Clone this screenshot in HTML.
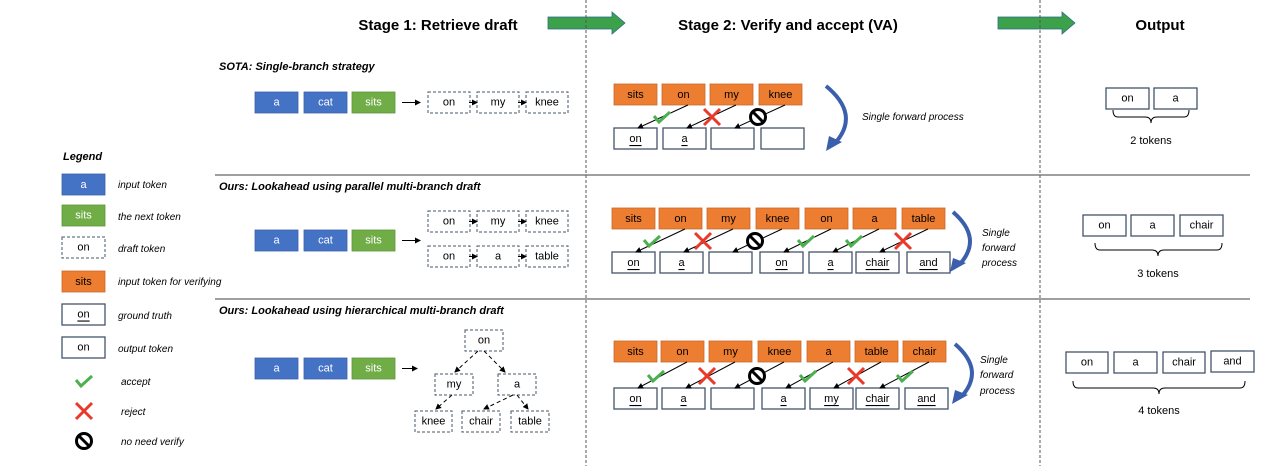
<!DOCTYPE html>
<html><head><meta charset="utf-8"><style>
html,body{margin:0;padding:0;background:#fff;}
svg{display:block;font-family:"Liberation Sans",sans-serif;}
.t{font-size:11px;text-anchor:middle;dominant-baseline:central;}
.w{fill:#fff;}
.it{font-style:italic;font-size:10px;}
.bi{font-style:italic;font-weight:bold;font-size:11px;}
.blue{fill:#4472c4;stroke:#3a62a8;stroke-width:0.8}
.green{fill:#70ad47;stroke:#5e9539;stroke-width:0.8}
.orange{fill:#ed7d31;stroke:#c9692a;stroke-width:0.8}
.dash{fill:#fff;stroke:#44546a;stroke-width:1;stroke-dasharray:3,2}
.out{fill:#fff;stroke:#44546a;stroke-width:1.3}
.ln{stroke:#000;stroke-width:1;fill:none}
.ck{stroke:#4caf50;stroke-width:3;fill:none}
.x{stroke:#e8392a;stroke-width:3}
</style></head><body>
<svg width="1286" height="466" viewBox="0 0 1286 466" xmlns="http://www.w3.org/2000/svg">
<defs>
<marker id="ah" markerWidth="6" markerHeight="6" refX="5" refY="3" orient="auto" markerUnits="userSpaceOnUse"><path d="M0,0 L6,3 L0,6 z" fill="#000"/></marker>
<g id="chk"><path class="ck" d="M-8,-1 L-3,5 L8,-5"/></g>
<g id="xx"><line class="x" x1="-8" y1="-8" x2="8" y2="8"/><line class="x" x1="8" y1="-8" x2="-8" y2="8"/></g>
<g id="no"><circle r="7.5" fill="#fff" stroke="#000" stroke-width="3"/><line x1="-5" y1="-5" x2="5" y2="5" stroke="#000" stroke-width="3"/></g>
</defs>

<!-- headers -->
<text x="438" y="30" font-size="15" font-weight="bold" text-anchor="middle">Stage 1: Retrieve draft</text>
<text x="788" y="30" font-size="15" font-weight="bold" text-anchor="middle">Stage 2: Verify and accept (VA)</text>
<text x="1160" y="30" font-size="15" font-weight="bold" text-anchor="middle">Output</text>
<polygon points="548,17 612,17 612,12 625,23 612,34 612,29 548,29" fill="#3ba14a" stroke="#2e6b8a" stroke-width="0.8"/>
<polygon points="998,17 1062,17 1062,12 1075,23 1062,34 1062,29 998,29" fill="#3ba14a" stroke="#2e6b8a" stroke-width="0.8"/>
<line x1="586" y1="0" x2="586" y2="466" stroke="#555" stroke-dasharray="3,2"/>
<line x1="1040" y1="0" x2="1040" y2="466" stroke="#555" stroke-dasharray="3,2"/>
<line x1="215" y1="175" x2="1250" y2="175" stroke="#666" stroke-width="1.3"/>
<line x1="215" y1="299" x2="1250" y2="299" stroke="#666" stroke-width="1.3"/>

<!-- legend -->
<text x="63" y="160" class="bi" font-size="10">Legend</text>
<rect x="62" y="174" width="43" height="21" class="blue"/><text x="83.5" y="185" class="t w">a</text>
<rect x="62" y="205" width="43" height="21" class="green"/><text x="83.5" y="215.5" class="t w">sits</text>
<rect x="62" y="237" width="43" height="21" class="dash"/><text x="83.5" y="247.5" class="t">on</text>
<rect x="62" y="271" width="43" height="21" class="orange"/><text x="83.5" y="282" class="t">sits</text>
<rect x="62" y="304" width="43" height="21" class="out"/><text x="83.5" y="314.5" class="t" text-decoration="underline">on</text>
<rect x="62" y="337" width="43" height="21" class="out"/><text x="83.5" y="347.5" class="t">on</text>
<use href="#chk" x="84" y="381"/><use href="#xx" x="84" y="411"/><use href="#no" x="84" y="441"/>
<text x="118" y="188" class="it">input token</text>
<text x="118" y="220" class="it">the next token</text>
<text x="118" y="252" class="it">draft token</text>
<text x="118" y="285" class="it">input token for verifying</text>
<text x="118" y="319" class="it">ground truth</text>
<text x="118" y="352" class="it">output token</text>
<text x="121" y="385" class="it">accept</text>
<text x="121" y="415" class="it">reject</text>
<text x="121" y="445" class="it">no need verify</text>

<!-- row 1 stage 1 -->
<text x="219" y="70" class="bi">SOTA: Single-branch strategy</text>
<rect x="255" y="92" width="43" height="21" class="blue"/><text x="276.5" y="102.5" class="t w">a</text>
<rect x="304" y="92" width="43" height="21" class="blue"/><text x="325.5" y="102.5" class="t w">cat</text>
<rect x="352" y="92" width="43" height="21" class="green"/><text x="373.5" y="102.5" class="t w">sits</text>
<line x1="402" y1="102.5" x2="420" y2="102.5" class="ln" marker-end="url(#ah)"/>
<rect x="428" y="92" width="42" height="21" class="dash"/><text x="449" y="102.5" class="t">on</text>
<rect x="477" y="92" width="42" height="21" class="dash"/><text x="498" y="102.5" class="t">my</text>
<rect x="526" y="92" width="42" height="21" class="dash"/><text x="547" y="102.5" class="t">knee</text>
<line x1="469" y1="102.5" x2="477" y2="102.5" class="ln" marker-end="url(#ah)"/>
<line x1="518" y1="102.5" x2="526" y2="102.5" class="ln" marker-end="url(#ah)"/>

<!-- row 1 stage 2 -->
<rect x="614" y="84" width="43" height="21" class="orange"/><text x="635.5" y="95" class="t">sits</text>
<rect x="662" y="84" width="43" height="21" class="orange"/><text x="683.5" y="95" class="t">on</text>
<rect x="710" y="84" width="43" height="21" class="orange"/><text x="731.5" y="95" class="t">my</text>
<rect x="759" y="84" width="43" height="21" class="orange"/><text x="780.5" y="95" class="t">knee</text>
<rect x="614" y="128" width="43" height="21" class="out"/><text x="635.5" y="139" class="t" text-decoration="underline">on</text>
<rect x="663" y="128" width="43" height="21" class="out"/><text x="684.5" y="139" class="t" text-decoration="underline">a</text>
<rect x="711" y="128" width="43" height="21" class="out"/>
<rect x="761" y="128" width="43" height="21" class="out"/>
<line x1="688" y1="105" x2="638" y2="128" class="ln" marker-end="url(#ah)"/>
<line x1="736" y1="105" x2="687" y2="128" class="ln" marker-end="url(#ah)"/>
<line x1="785" y1="105" x2="735" y2="128" class="ln" marker-end="url(#ah)"/>
<use href="#chk" x="662" y="117"/><use href="#xx" x="712" y="117"/><use href="#no" x="758" y="117"/>
<path d="M826,86 Q860,114 836,142" stroke="#3b5fad" stroke-width="4" fill="none"/>
<polygon points="829,136 842,142 826,151" fill="#3b5fad"/>
<text x="862" y="120" class="it">Single forward process</text>

<!-- row 1 output -->
<rect x="1106" y="88" width="43" height="21" class="out"/><text x="1127.5" y="98.5" class="t">on</text>
<rect x="1154" y="88" width="43" height="21" class="out"/><text x="1175.5" y="98.5" class="t">a</text>
<path d="M1113,110 Q1113,117 1118,117 L1145,117 Q1151,117 1151,123 Q1151,117 1157,117 L1184,117 Q1189,117 1189,110" class="ln"/>
<text x="1151" y="144" font-size="11" text-anchor="middle">2 tokens</text>

<!-- row 2 stage 1 -->
<text x="219" y="190" class="bi">Ours: Lookahead using parallel multi-branch draft</text>
<rect x="255" y="230" width="43" height="21" class="blue"/><text x="276.5" y="240.5" class="t w">a</text>
<rect x="304" y="230" width="43" height="21" class="blue"/><text x="325.5" y="240.5" class="t w">cat</text>
<rect x="352" y="230" width="43" height="21" class="green"/><text x="373.5" y="240.5" class="t w">sits</text>
<line x1="402" y1="240.5" x2="420" y2="240.5" class="ln" marker-end="url(#ah)"/>
<rect x="428" y="211" width="42" height="21" class="dash"/><text x="449" y="221.5" class="t">on</text>
<rect x="477" y="211" width="42" height="21" class="dash"/><text x="498" y="221.5" class="t">my</text>
<rect x="526" y="211" width="42" height="21" class="dash"/><text x="547" y="221.5" class="t">knee</text>
<line x1="469" y1="221.5" x2="477" y2="221.5" class="ln" marker-end="url(#ah)"/>
<line x1="518" y1="221.5" x2="526" y2="221.5" class="ln" marker-end="url(#ah)"/>
<rect x="428" y="246" width="42" height="21" class="dash"/><text x="449" y="256.5" class="t">on</text>
<rect x="477" y="246" width="42" height="21" class="dash"/><text x="498" y="256.5" class="t">a</text>
<rect x="526" y="246" width="42" height="21" class="dash"/><text x="547" y="256.5" class="t">table</text>
<line x1="469" y1="256.5" x2="477" y2="256.5" class="ln" marker-end="url(#ah)"/>
<line x1="518" y1="256.5" x2="526" y2="256.5" class="ln" marker-end="url(#ah)"/>

<!-- row 2 stage 2 -->
<rect x="612" y="208" width="43" height="21" class="orange"/><text x="633.5" y="219" class="t">sits</text>
<rect x="659" y="208" width="43" height="21" class="orange"/><text x="680.5" y="219" class="t">on</text>
<rect x="707" y="208" width="43" height="21" class="orange"/><text x="728.5" y="219" class="t">my</text>
<rect x="756" y="208" width="43" height="21" class="orange"/><text x="777.5" y="219" class="t">knee</text>
<rect x="805" y="208" width="43" height="21" class="orange"/><text x="826.5" y="219" class="t">on</text>
<rect x="853" y="208" width="43" height="21" class="orange"/><text x="874.5" y="219" class="t">a</text>
<rect x="902" y="208" width="43" height="21" class="orange"/><text x="923.5" y="219" class="t">table</text>
<rect x="612" y="252" width="43" height="21" class="out"/><text x="633.5" y="263" class="t" text-decoration="underline">on</text>
<rect x="660" y="252" width="43" height="21" class="out"/><text x="681.5" y="263" class="t" text-decoration="underline">a</text>
<rect x="709" y="252" width="43" height="21" class="out"/>
<rect x="760" y="252" width="43" height="21" class="out"/><text x="781.5" y="263" class="t" text-decoration="underline">on</text>
<rect x="809" y="252" width="43" height="21" class="out"/><text x="830.5" y="263" class="t" text-decoration="underline">a</text>
<rect x="856" y="252" width="43" height="21" class="out"/><text x="877.5" y="263" class="t" text-decoration="underline">chair</text>
<rect x="907" y="252" width="43" height="21" class="out"/><text x="928.5" y="263" class="t" text-decoration="underline">and</text>
<line x1="685" y1="229" x2="636" y2="252" class="ln" marker-end="url(#ah)"/>
<line x1="733" y1="229" x2="684" y2="252" class="ln" marker-end="url(#ah)"/>
<line x1="782" y1="229" x2="733" y2="252" class="ln" marker-end="url(#ah)"/>
<line x1="831" y1="229" x2="784" y2="252" class="ln" marker-end="url(#ah)"/>
<line x1="879" y1="229" x2="833" y2="252" class="ln" marker-end="url(#ah)"/>
<line x1="928" y1="229" x2="880" y2="252" class="ln" marker-end="url(#ah)"/>
<use href="#chk" x="652" y="241"/><use href="#xx" x="703" y="241"/><use href="#no" x="755" y="241"/>
<use href="#chk" x="806" y="241"/><use href="#chk" x="854" y="241"/><use href="#xx" x="903" y="241"/>
<path d="M953,212 Q983,238 960,264" stroke="#3b5fad" stroke-width="4" fill="none"/>
<polygon points="953,258 966,263 950,272" fill="#3b5fad"/>
<text x="982" y="236" class="it">Single</text>
<text x="982" y="251" class="it">forward</text>
<text x="982" y="266" class="it">process</text>

<!-- row 2 output -->
<rect x="1083" y="215" width="43" height="21" class="out"/><text x="1104.5" y="225.5" class="t">on</text>
<rect x="1131" y="215" width="43" height="21" class="out"/><text x="1152.5" y="225.5" class="t">a</text>
<rect x="1180" y="215" width="43" height="21" class="out"/><text x="1201.5" y="225.5" class="t">chair</text>
<path d="M1095,243 Q1095,250 1100,250 L1152,250 Q1158,250 1158,256 Q1158,250 1164,250 L1217,250 Q1222,250 1222,243" class="ln"/>
<text x="1158" y="277" font-size="11" text-anchor="middle">3 tokens</text>

<!-- row 3 stage 1 -->
<text x="219" y="314" class="bi">Ours: Lookahead using hierarchical multi-branch draft</text>
<rect x="255" y="358" width="43" height="21" class="blue"/><text x="276.5" y="368.5" class="t w">a</text>
<rect x="304" y="358" width="43" height="21" class="blue"/><text x="325.5" y="368.5" class="t w">cat</text>
<rect x="352" y="358" width="43" height="21" class="green"/><text x="373.5" y="368.5" class="t w">sits</text>
<line x1="402" y1="368.5" x2="417" y2="368.5" class="ln" marker-end="url(#ah)"/>
<rect x="465" y="330" width="38" height="21" class="dash"/><text x="484" y="340.5" class="t">on</text>
<rect x="435" y="374" width="38" height="21" class="dash"/><text x="454" y="384.5" class="t">my</text>
<rect x="498" y="374" width="38" height="21" class="dash"/><text x="517" y="384.5" class="t">a</text>
<rect x="415" y="411" width="37" height="21" class="dash"/><text x="433.5" y="421.5" class="t">knee</text>
<rect x="462" y="411" width="38" height="21" class="dash"/><text x="481" y="421.5" class="t">chair</text>
<rect x="511" y="411" width="38" height="21" class="dash"/><text x="530" y="421.5" class="t">table</text>
<g stroke-dasharray="4,3">
<line x1="478" y1="351" x2="455" y2="372" class="ln" marker-end="url(#ah)"/>
<line x1="484" y1="351" x2="505" y2="372" class="ln" marker-end="url(#ah)"/>
<line x1="452" y1="395" x2="436" y2="409" class="ln" marker-end="url(#ah)"/>
<line x1="513" y1="395" x2="484" y2="409" class="ln" marker-end="url(#ah)"/>
<line x1="517" y1="395" x2="528" y2="409" class="ln" marker-end="url(#ah)"/>
</g>

<!-- row 3 stage 2 -->
<rect x="614" y="341" width="43" height="21" class="orange"/><text x="635.5" y="352" class="t">sits</text>
<rect x="661" y="341" width="43" height="21" class="orange"/><text x="682.5" y="352" class="t">on</text>
<rect x="709" y="341" width="43" height="21" class="orange"/><text x="730.5" y="352" class="t">my</text>
<rect x="758" y="341" width="43" height="21" class="orange"/><text x="779.5" y="352" class="t">knee</text>
<rect x="807" y="341" width="43" height="21" class="orange"/><text x="828.5" y="352" class="t">a</text>
<rect x="855" y="341" width="43" height="21" class="orange"/><text x="876.5" y="352" class="t">table</text>
<rect x="903" y="341" width="43" height="21" class="orange"/><text x="924.5" y="352" class="t">chair</text>
<rect x="614" y="388" width="43" height="21" class="out"/><text x="635.5" y="399" class="t" text-decoration="underline">on</text>
<rect x="662" y="388" width="43" height="21" class="out"/><text x="683.5" y="399" class="t" text-decoration="underline">a</text>
<rect x="711" y="388" width="43" height="21" class="out"/>
<rect x="762" y="388" width="43" height="21" class="out"/><text x="783.5" y="399" class="t" text-decoration="underline">a</text>
<rect x="810" y="388" width="43" height="21" class="out"/><text x="831.5" y="399" class="t" text-decoration="underline">my</text>
<rect x="856" y="388" width="43" height="21" class="out"/><text x="877.5" y="399" class="t" text-decoration="underline">chair</text>
<rect x="905" y="388" width="43" height="21" class="out"/><text x="926.5" y="399" class="t" text-decoration="underline">and</text>
<line x1="687" y1="362" x2="638" y2="388" class="ln" marker-end="url(#ah)"/>
<line x1="735" y1="362" x2="686" y2="388" class="ln" marker-end="url(#ah)"/>
<line x1="784" y1="362" x2="735" y2="388" class="ln" marker-end="url(#ah)"/>
<line x1="833" y1="362" x2="786" y2="388" class="ln" marker-end="url(#ah)"/>
<line x1="881" y1="362" x2="834" y2="388" class="ln" marker-end="url(#ah)"/>
<line x1="929" y1="362" x2="880" y2="388" class="ln" marker-end="url(#ah)"/>
<use href="#chk" x="656" y="376"/><use href="#xx" x="707" y="376"/><use href="#no" x="757" y="376"/>
<use href="#chk" x="808" y="376"/><use href="#xx" x="856" y="376"/><use href="#chk" x="905" y="376"/>
<path d="M955,344 Q985,370 962,396" stroke="#3b5fad" stroke-width="4" fill="none"/>
<polygon points="955,390 968,395 952,404" fill="#3b5fad"/>
<text x="980" y="363" class="it">Single</text>
<text x="980" y="378" class="it">forward</text>
<text x="980" y="394" class="it">process</text>

<!-- row 3 output -->
<rect x="1066" y="352" width="42" height="21" class="out"/><text x="1087" y="362.5" class="t">on</text>
<rect x="1114" y="352" width="43" height="21" class="out"/><text x="1135.5" y="362.5" class="t">a</text>
<rect x="1163" y="352" width="42" height="21" class="out"/><text x="1184" y="362.5" class="t">chair</text>
<rect x="1211" y="351" width="43" height="21" class="out"/><text x="1232.5" y="361.5" class="t">and</text>
<path d="M1073,381 Q1073,388 1078,388 L1153,388 Q1159,388 1159,394 Q1159,388 1165,388 L1240,388 Q1245,388 1245,381" class="ln"/>
<text x="1159" y="414" font-size="11" text-anchor="middle">4 tokens</text>
</svg>
</body></html>
